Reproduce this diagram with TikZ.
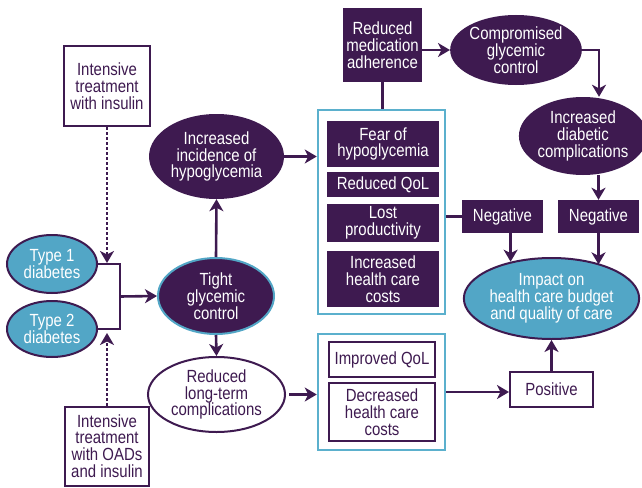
\documentclass[tikz,border=0pt]{standalone}
\usepackage{fontspec}
\setmainfont[FakeStretch=0.85]{Liberation Sans}
\usetikzlibrary{arrows.meta,shapes.geometric}
\definecolor{pur}{HTML}{3E1A50}
\definecolor{blu}{HTML}{52A6C6}
\definecolor{bbord}{HTML}{5BB0CD}
\tikzset{
  base/.style={inner sep=0pt, align=center, font=\fontsize{17.6}{16.8}\selectfont},
  pbox/.style={base, rectangle, fill=pur, text=white},
  wbox/.style={base, rectangle, draw=pur, line width=2pt, fill=white, text=pur},
  pell/.style={base, ellipse, fill=pur, text=white},
  bell/.style={base, ellipse, fill=blu, draw=pur, line width=2pt, text=white},
  well/.style={base, ellipse, fill=white, draw=pur, line width=2pt, text=pur},
  group/.style={rectangle, draw=bbord, line width=2.5pt, inner sep=0pt},
  conn/.style={draw=pur, line width=2.6pt},
  arr/.style={conn, -{Stealth[length=12pt,width=14pt,inset=3.5pt]}},
  dotarr/.style={arr, dash pattern=on 2.5pt off 2.5pt}
}
\begin{document}
\begin{tikzpicture}[x=1pt,y=-1pt]
\useasboundingbox (0,0) rectangle (642,487);
% groups
\node[group, minimum width=127, minimum height=204] (ub) at (381.5,212) {};
\node[group, minimum width=127, minimum height=116] (lb) at (381.5,392) {};
% left
\node[wbox, minimum width=86, minimum height=80] (ins1) at (107,86) {Intensive\\treatment\\with insulin};
\node[wbox, minimum width=84, minimum height=79] (ins2) at (107,446) {Intensive\\treatment\\with OADs\\and insulin};
\node[bell, minimum width=90, minimum height=58] (t1) at (52,264) {Type 1\\diabetes};
\node[bell, minimum width=90, minimum height=56] (t2) at (52,329) {Type 2\\diabetes};
\node[pell, draw=blu, line width=2pt, minimum width=116, minimum height=76] (tight) at (216,296) {Tight\\glycemic\\control};
\node[pell, minimum width=135, minimum height=85] (hypo) at (216.5,156.5) {Increased\\incidence of\\hypoglycemia};
\node[well, minimum width=137, minimum height=75] (red) at (216.5,394.5) {Reduced\\long-term\\complications};
% upper group contents
\node[pbox, minimum width=112, minimum height=46] (fear) at (383,144) {Fear of\\hypoglycemia};
\node[pbox, minimum width=112, minimum height=25] (rqol) at (383,184.5) {Reduced QoL};
\node[pbox, minimum width=112, minimum height=38] (lost) at (383,223) {Lost\\productivity};
\node[pbox, minimum width=112, minimum height=56] (ihc) at (383,279) {Increased\\health care\\costs};
% lower group contents
\node[wbox, minimum width=106, minimum height=35] (iqol) at (382,359.5) {Improved QoL};
\node[wbox, minimum width=106, minimum height=58] (dhc) at (382,412) {Decreased\\health care\\costs};
% top right
\node[pbox, minimum width=79, minimum height=74] (med) at (382.5,45) {Reduced\\medication\\adherence};
\node[pell, minimum width=126, minimum height=70] (comp) at (516,50) {Compromised\\glycemic\\control};
\node[pell, minimum width=126, minimum height=78] (diab) at (583,136) {Increased\\diabetic\\complications};
\node[pbox, minimum width=81, minimum height=33] (neg1) at (502.5,216.5) {Negative};
\node[pbox, minimum width=81, minimum height=33] (neg2) at (598.5,216.5) {Negative};
\node[bell, minimum width=151, minimum height=81] (imp) at (551.5,298.5) {Impact on\\health care budget\\and quality of care};
\node[wbox, minimum width=83, minimum height=35] (pos) at (551.5,389.5) {Positive};
% connectors
\coordinate (brm) at (120,296.5);
\draw[conn] (t1.east) -| (brm) |- (t2.east);
\draw[arr] (brm) -- (tight.west);
\draw[dotarr, shorten >=1pt] (ins1.south) -- (ins1.south |- t1.east);
\draw[dotarr, shorten >=4pt] (ins2.north) -- (ins2.north |- t2.east);
\draw[arr] (tight.north) -- (hypo.south);
\draw[arr] (tight.south) -- (red.north);
\draw[arr] (hypo.east) -- (hypo.east -| ub.west);
\draw[arr, shorten <=3pt] (red.east) -- (red.east -| lb.west);
\draw[conn] (med.south) -- (med.south |- ub.north);
\draw[arr] (med.east |- comp.west) -- (comp.west);
\draw[arr] (comp.east) -| ([xshift=16pt]diab.north);
\draw[arr] (neg2.north |- diab.south) -- (neg2.north);
\draw[conn] (ub.east |- neg1.west) -- (neg1.west);
\draw[arr] (imp.138 |- neg1.south) -- (imp.138);
\draw[arr] (neg2.south) -- (neg2.south |- imp.34);
\draw[arr] (lb.east) -- (lb.east -| pos.west);
\draw[arr] (pos.north) -- (imp.south);
\end{tikzpicture}
\end{document}
